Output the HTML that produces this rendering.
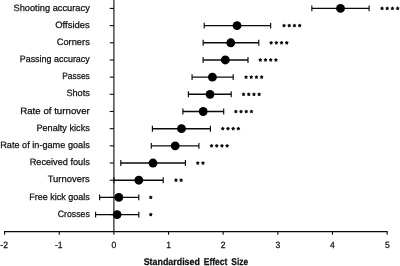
<!DOCTYPE html><html><head><meta charset="utf-8"><style>html,body{margin:0;padding:0;background:#fff;}svg{display:block;will-change:transform;}text{font-family:"Liberation Sans",sans-serif;fill:#111;stroke:#111;stroke-width:0.25px;text-rendering:geometricPrecision;}</style></head><body>
<svg width="400" height="266" viewBox="0 0 400 266">
<rect width="400" height="266" fill="#fff"/>
<g stroke="#0a0a0a" stroke-width="1.1" fill="none" stroke-linecap="butt">
<line x1="113.9" y1="0" x2="113.9" y2="231.65"/>
<line x1="4.050000000000009" y1="231.65" x2="387.7" y2="231.65"/>
<line x1="4.6000000000000085" y1="231.65" x2="4.6000000000000085" y2="234.75"/>
<line x1="59.25000000000001" y1="231.65" x2="59.25000000000001" y2="234.75"/>
<line x1="113.9" y1="231.65" x2="113.9" y2="234.75"/>
<line x1="168.55" y1="231.65" x2="168.55" y2="234.75"/>
<line x1="223.2" y1="231.65" x2="223.2" y2="234.75"/>
<line x1="277.85" y1="231.65" x2="277.85" y2="234.75"/>
<line x1="332.5" y1="231.65" x2="332.5" y2="234.75"/>
<line x1="387.15" y1="231.65" x2="387.15" y2="234.75"/>
<line x1="109.7" y1="8.42" x2="113.9" y2="8.42"/>
<line x1="109.7" y1="25.6" x2="113.9" y2="25.6"/>
<line x1="109.7" y1="42.78" x2="113.9" y2="42.78"/>
<line x1="109.7" y1="59.96" x2="113.9" y2="59.96"/>
<line x1="109.7" y1="77.14" x2="113.9" y2="77.14"/>
<line x1="109.7" y1="94.32000000000001" x2="113.9" y2="94.32000000000001"/>
<line x1="109.7" y1="111.5" x2="113.9" y2="111.5"/>
<line x1="109.7" y1="128.67999999999998" x2="113.9" y2="128.67999999999998"/>
<line x1="109.7" y1="145.85999999999999" x2="113.9" y2="145.85999999999999"/>
<line x1="109.7" y1="163.04" x2="113.9" y2="163.04"/>
<line x1="109.7" y1="180.22" x2="113.9" y2="180.22"/>
<line x1="109.7" y1="197.39999999999998" x2="113.9" y2="197.39999999999998"/>
<line x1="109.7" y1="214.57999999999998" x2="113.9" y2="214.57999999999998"/>
</g>
<text transform="translate(4.15,248.2) scale(0.94,1)" font-size="9.1" text-anchor="middle">-2</text>
<text transform="translate(58.80,248.2) scale(0.94,1)" font-size="9.1" text-anchor="middle">-1</text>
<text transform="translate(113.90,248.2) scale(0.94,1)" font-size="9.1" text-anchor="middle">0</text>
<text transform="translate(168.55,248.2) scale(0.94,1)" font-size="9.1" text-anchor="middle">1</text>
<text transform="translate(223.20,248.2) scale(0.94,1)" font-size="9.1" text-anchor="middle">2</text>
<text transform="translate(277.85,248.2) scale(0.94,1)" font-size="9.1" text-anchor="middle">3</text>
<text transform="translate(332.50,248.2) scale(0.94,1)" font-size="9.1" text-anchor="middle">4</text>
<text transform="translate(387.45,248.2) scale(0.94,1)" font-size="9.1" text-anchor="middle">5</text>
<text x="143.7" y="264.6" font-size="9.8" font-weight="bold" textLength="56.2" lengthAdjust="spacingAndGlyphs">Standardised</text>
<text x="203.7" y="264.6" font-size="9.8" font-weight="bold" textLength="23.8" lengthAdjust="spacingAndGlyphs">Effect</text>
<text x="231.3" y="264.6" font-size="9.8" font-weight="bold" textLength="16.8" lengthAdjust="spacingAndGlyphs">Size</text>
<text x="13.45" y="10.52" font-size="9.25" textLength="76.35" lengthAdjust="spacingAndGlyphs">Shooting accuracy</text>
<g stroke="#0a0a0a" stroke-width="1.15" fill="none"><line x1="311.85" y1="8.42" x2="369.1" y2="8.42" stroke-width="1.4"/><line x1="311.85" y1="5.47" x2="311.85" y2="11.37"/><line x1="369.1" y1="5.47" x2="369.1" y2="11.37"/></g>
<circle cx="340.5" cy="8.42" r="4.42" fill="#000"/>
<path d="M382.05 8.42L382.05 7.20M382.05 8.42L383.21 8.04M382.05 8.42L382.77 9.41M382.05 8.42L381.33 9.41M382.05 8.42L380.89 8.04M387.25 8.42L387.25 7.20M387.25 8.42L388.41 8.04M387.25 8.42L387.97 9.41M387.25 8.42L386.53 9.41M387.25 8.42L386.09 8.04M392.45 8.42L392.45 7.20M392.45 8.42L393.61 8.04M392.45 8.42L393.17 9.41M392.45 8.42L391.73 9.41M392.45 8.42L391.29 8.04M397.65 8.42L397.65 7.20M397.65 8.42L398.81 8.04M397.65 8.42L398.37 9.41M397.65 8.42L396.93 9.41M397.65 8.42L396.49 8.04" stroke="#0a0a0a" stroke-width="1.28" fill="none" stroke-linecap="round"/>
<text x="55.20" y="27.70" font-size="9.25" textLength="34.60" lengthAdjust="spacingAndGlyphs">Offsides</text>
<g stroke="#0a0a0a" stroke-width="1.15" fill="none"><line x1="204.2" y1="25.60" x2="270.65" y2="25.60" stroke-width="1.4"/><line x1="204.2" y1="22.65" x2="204.2" y2="28.55"/><line x1="270.65" y1="22.65" x2="270.65" y2="28.55"/></g>
<circle cx="237.05" cy="25.60" r="4.42" fill="#000"/>
<path d="M284.05 25.60L284.05 24.38M284.05 25.60L285.21 25.22M284.05 25.60L284.77 26.59M284.05 25.60L283.33 26.59M284.05 25.60L282.89 25.22M289.25 25.60L289.25 24.38M289.25 25.60L290.41 25.22M289.25 25.60L289.97 26.59M289.25 25.60L288.53 26.59M289.25 25.60L288.09 25.22M294.45 25.60L294.45 24.38M294.45 25.60L295.61 25.22M294.45 25.60L295.17 26.59M294.45 25.60L293.73 26.59M294.45 25.60L293.29 25.22M299.65 25.60L299.65 24.38M299.65 25.60L300.81 25.22M299.65 25.60L300.37 26.59M299.65 25.60L298.93 26.59M299.65 25.60L298.49 25.22" stroke="#0a0a0a" stroke-width="1.28" fill="none" stroke-linecap="round"/>
<text x="56.70" y="44.88" font-size="9.25" textLength="33.10" lengthAdjust="spacingAndGlyphs">Corners</text>
<g stroke="#0a0a0a" stroke-width="1.15" fill="none"><line x1="203.15" y1="42.78" x2="258.8" y2="42.78" stroke-width="1.4"/><line x1="203.15" y1="39.83" x2="203.15" y2="45.73"/><line x1="258.8" y1="39.83" x2="258.8" y2="45.73"/></g>
<circle cx="230.75" cy="42.78" r="4.42" fill="#000"/>
<path d="M271.15 42.78L271.15 41.56M271.15 42.78L272.31 42.40M271.15 42.78L271.87 43.77M271.15 42.78L270.43 43.77M271.15 42.78L269.99 42.40M276.35 42.78L276.35 41.56M276.35 42.78L277.51 42.40M276.35 42.78L277.07 43.77M276.35 42.78L275.63 43.77M276.35 42.78L275.19 42.40M281.55 42.78L281.55 41.56M281.55 42.78L282.71 42.40M281.55 42.78L282.27 43.77M281.55 42.78L280.83 43.77M281.55 42.78L280.39 42.40M286.75 42.78L286.75 41.56M286.75 42.78L287.91 42.40M286.75 42.78L287.47 43.77M286.75 42.78L286.03 43.77M286.75 42.78L285.59 42.40" stroke="#0a0a0a" stroke-width="1.28" fill="none" stroke-linecap="round"/>
<text x="19.70" y="62.06" font-size="9.25" textLength="70.10" lengthAdjust="spacingAndGlyphs">Passing accuracy</text>
<g stroke="#0a0a0a" stroke-width="1.15" fill="none"><line x1="203.1" y1="59.96" x2="248.0" y2="59.96" stroke-width="1.4"/><line x1="203.1" y1="57.01" x2="203.1" y2="62.91"/><line x1="248.0" y1="57.01" x2="248.0" y2="62.91"/></g>
<circle cx="225.3" cy="59.96" r="4.42" fill="#000"/>
<path d="M260.30 59.96L260.30 58.74M260.30 59.96L261.46 59.58M260.30 59.96L261.02 60.95M260.30 59.96L259.58 60.95M260.30 59.96L259.14 59.58M265.50 59.96L265.50 58.74M265.50 59.96L266.66 59.58M265.50 59.96L266.22 60.95M265.50 59.96L264.78 60.95M265.50 59.96L264.34 59.58M270.70 59.96L270.70 58.74M270.70 59.96L271.86 59.58M270.70 59.96L271.42 60.95M270.70 59.96L269.98 60.95M270.70 59.96L269.54 59.58M275.90 59.96L275.90 58.74M275.90 59.96L277.06 59.58M275.90 59.96L276.62 60.95M275.90 59.96L275.18 60.95M275.90 59.96L274.74 59.58" stroke="#0a0a0a" stroke-width="1.28" fill="none" stroke-linecap="round"/>
<text x="62.20" y="79.24" font-size="9.25" textLength="27.60" lengthAdjust="spacingAndGlyphs">Passes</text>
<g stroke="#0a0a0a" stroke-width="1.15" fill="none"><line x1="192.05" y1="77.14" x2="233.2" y2="77.14" stroke-width="1.4"/><line x1="192.05" y1="74.19" x2="192.05" y2="80.09"/><line x1="233.2" y1="74.19" x2="233.2" y2="80.09"/></g>
<circle cx="212.4" cy="77.14" r="4.42" fill="#000"/>
<path d="M246.05 77.14L246.05 75.92M246.05 77.14L247.21 76.76M246.05 77.14L246.77 78.13M246.05 77.14L245.33 78.13M246.05 77.14L244.89 76.76M251.25 77.14L251.25 75.92M251.25 77.14L252.41 76.76M251.25 77.14L251.97 78.13M251.25 77.14L250.53 78.13M251.25 77.14L250.09 76.76M256.45 77.14L256.45 75.92M256.45 77.14L257.61 76.76M256.45 77.14L257.17 78.13M256.45 77.14L255.73 78.13M256.45 77.14L255.29 76.76M261.65 77.14L261.65 75.92M261.65 77.14L262.81 76.76M261.65 77.14L262.37 78.13M261.65 77.14L260.93 78.13M261.65 77.14L260.49 76.76" stroke="#0a0a0a" stroke-width="1.28" fill="none" stroke-linecap="round"/>
<text x="66.45" y="96.42" font-size="9.25" textLength="23.35" lengthAdjust="spacingAndGlyphs">Shots</text>
<g stroke="#0a0a0a" stroke-width="1.15" fill="none"><line x1="188.4" y1="94.32" x2="231.2" y2="94.32" stroke-width="1.4"/><line x1="188.4" y1="91.37" x2="188.4" y2="97.27"/><line x1="231.2" y1="91.37" x2="231.2" y2="97.27"/></g>
<circle cx="210.0" cy="94.32" r="4.42" fill="#000"/>
<path d="M243.55 94.32L243.55 93.10M243.55 94.32L244.71 93.94M243.55 94.32L244.27 95.31M243.55 94.32L242.83 95.31M243.55 94.32L242.39 93.94M248.75 94.32L248.75 93.10M248.75 94.32L249.91 93.94M248.75 94.32L249.47 95.31M248.75 94.32L248.03 95.31M248.75 94.32L247.59 93.94M253.95 94.32L253.95 93.10M253.95 94.32L255.11 93.94M253.95 94.32L254.67 95.31M253.95 94.32L253.23 95.31M253.95 94.32L252.79 93.94M259.15 94.32L259.15 93.10M259.15 94.32L260.31 93.94M259.15 94.32L259.87 95.31M259.15 94.32L258.43 95.31M259.15 94.32L257.99 93.94" stroke="#0a0a0a" stroke-width="1.28" fill="none" stroke-linecap="round"/>
<text x="20.20" y="113.60" font-size="9.25" textLength="69.60" lengthAdjust="spacingAndGlyphs">Rate of turnover</text>
<g stroke="#0a0a0a" stroke-width="1.15" fill="none"><line x1="182.9" y1="111.50" x2="223.7" y2="111.50" stroke-width="1.4"/><line x1="182.9" y1="108.55" x2="182.9" y2="114.45"/><line x1="223.7" y1="108.55" x2="223.7" y2="114.45"/></g>
<circle cx="203.2" cy="111.50" r="4.42" fill="#000"/>
<path d="M235.85 111.50L235.85 110.28M235.85 111.50L237.01 111.12M235.85 111.50L236.57 112.49M235.85 111.50L235.13 112.49M235.85 111.50L234.69 111.12M241.05 111.50L241.05 110.28M241.05 111.50L242.21 111.12M241.05 111.50L241.77 112.49M241.05 111.50L240.33 112.49M241.05 111.50L239.89 111.12M246.25 111.50L246.25 110.28M246.25 111.50L247.41 111.12M246.25 111.50L246.97 112.49M246.25 111.50L245.53 112.49M246.25 111.50L245.09 111.12M251.45 111.50L251.45 110.28M251.45 111.50L252.61 111.12M251.45 111.50L252.17 112.49M251.45 111.50L250.73 112.49M251.45 111.50L250.29 111.12" stroke="#0a0a0a" stroke-width="1.28" fill="none" stroke-linecap="round"/>
<text x="36.45" y="130.78" font-size="9.25" textLength="53.35" lengthAdjust="spacingAndGlyphs">Penalty kicks</text>
<g stroke="#0a0a0a" stroke-width="1.15" fill="none"><line x1="152.4" y1="128.68" x2="210.4" y2="128.68" stroke-width="1.4"/><line x1="152.4" y1="125.73" x2="152.4" y2="131.63"/><line x1="210.4" y1="125.73" x2="210.4" y2="131.63"/></g>
<circle cx="181.5" cy="128.68" r="4.42" fill="#000"/>
<path d="M222.75 128.68L222.75 127.46M222.75 128.68L223.91 128.30M222.75 128.68L223.47 129.67M222.75 128.68L222.03 129.67M222.75 128.68L221.59 128.30M227.95 128.68L227.95 127.46M227.95 128.68L229.11 128.30M227.95 128.68L228.67 129.67M227.95 128.68L227.23 129.67M227.95 128.68L226.79 128.30M233.15 128.68L233.15 127.46M233.15 128.68L234.31 128.30M233.15 128.68L233.87 129.67M233.15 128.68L232.43 129.67M233.15 128.68L231.99 128.30M238.35 128.68L238.35 127.46M238.35 128.68L239.51 128.30M238.35 128.68L239.07 129.67M238.35 128.68L237.63 129.67M238.35 128.68L237.19 128.30" stroke="#0a0a0a" stroke-width="1.28" fill="none" stroke-linecap="round"/>
<text x="0.20" y="147.96" font-size="9.25" textLength="89.60" lengthAdjust="spacingAndGlyphs">Rate of in-game goals</text>
<g stroke="#0a0a0a" stroke-width="1.15" fill="none"><line x1="151.3" y1="145.86" x2="198.9" y2="145.86" stroke-width="1.4"/><line x1="151.3" y1="142.91" x2="151.3" y2="148.81"/><line x1="198.9" y1="142.91" x2="198.9" y2="148.81"/></g>
<circle cx="175.2" cy="145.86" r="4.42" fill="#000"/>
<path d="M211.55 145.86L211.55 144.64M211.55 145.86L212.71 145.48M211.55 145.86L212.27 146.85M211.55 145.86L210.83 146.85M211.55 145.86L210.39 145.48M216.75 145.86L216.75 144.64M216.75 145.86L217.91 145.48M216.75 145.86L217.47 146.85M216.75 145.86L216.03 146.85M216.75 145.86L215.59 145.48M221.95 145.86L221.95 144.64M221.95 145.86L223.11 145.48M221.95 145.86L222.67 146.85M221.95 145.86L221.23 146.85M221.95 145.86L220.79 145.48M227.15 145.86L227.15 144.64M227.15 145.86L228.31 145.48M227.15 145.86L227.87 146.85M227.15 145.86L226.43 146.85M227.15 145.86L225.99 145.48" stroke="#0a0a0a" stroke-width="1.28" fill="none" stroke-linecap="round"/>
<text x="29.70" y="165.14" font-size="9.25" textLength="60.10" lengthAdjust="spacingAndGlyphs">Received fouls</text>
<g stroke="#0a0a0a" stroke-width="1.15" fill="none"><line x1="120.8" y1="163.04" x2="185.4" y2="163.04" stroke-width="1.4"/><line x1="120.8" y1="160.09" x2="120.8" y2="165.99"/><line x1="185.4" y1="160.09" x2="185.4" y2="165.99"/></g>
<circle cx="153.0" cy="163.04" r="4.42" fill="#000"/>
<path d="M197.75 163.04L197.75 161.82M197.75 163.04L198.91 162.66M197.75 163.04L198.47 164.03M197.75 163.04L197.03 164.03M197.75 163.04L196.59 162.66M202.95 163.04L202.95 161.82M202.95 163.04L204.11 162.66M202.95 163.04L203.67 164.03M202.95 163.04L202.23 164.03M202.95 163.04L201.79 162.66" stroke="#0a0a0a" stroke-width="1.28" fill="none" stroke-linecap="round"/>
<text x="47.70" y="182.32" font-size="9.25" textLength="42.10" lengthAdjust="spacingAndGlyphs">Turnovers</text>
<g stroke="#0a0a0a" stroke-width="1.15" fill="none"><line x1="114.0" y1="180.22" x2="163.2" y2="180.22" stroke-width="1.4"/><line x1="114.0" y1="177.27" x2="114.0" y2="183.17"/><line x1="163.2" y1="177.27" x2="163.2" y2="183.17"/></g>
<circle cx="138.8" cy="180.22" r="4.42" fill="#000"/>
<path d="M175.95 180.22L175.95 179.00M175.95 180.22L177.11 179.84M175.95 180.22L176.67 181.21M175.95 180.22L175.23 181.21M175.95 180.22L174.79 179.84M181.15 180.22L181.15 179.00M181.15 180.22L182.31 179.84M181.15 180.22L181.87 181.21M181.15 180.22L180.43 181.21M181.15 180.22L179.99 179.84" stroke="#0a0a0a" stroke-width="1.28" fill="none" stroke-linecap="round"/>
<text x="29.20" y="199.50" font-size="9.25" textLength="60.60" lengthAdjust="spacingAndGlyphs">Free kick goals</text>
<g stroke="#0a0a0a" stroke-width="1.15" fill="none"><line x1="99.6" y1="197.40" x2="138.8" y2="197.40" stroke-width="1.4"/><line x1="99.6" y1="194.45" x2="99.6" y2="200.35"/><line x1="138.8" y1="194.45" x2="138.8" y2="200.35"/></g>
<circle cx="118.8" cy="197.40" r="4.42" fill="#000"/>
<path d="M150.75 197.40L150.75 196.18M150.75 197.40L151.91 197.02M150.75 197.40L151.47 198.39M150.75 197.40L150.03 198.39M150.75 197.40L149.59 197.02" stroke="#0a0a0a" stroke-width="1.28" fill="none" stroke-linecap="round"/>
<text x="57.70" y="216.68" font-size="9.25" textLength="32.10" lengthAdjust="spacingAndGlyphs">Crosses</text>
<g stroke="#0a0a0a" stroke-width="1.15" fill="none"><line x1="95.6" y1="214.58" x2="138.8" y2="214.58" stroke-width="1.4"/><line x1="95.6" y1="211.63" x2="95.6" y2="217.53"/><line x1="138.8" y1="211.63" x2="138.8" y2="217.53"/></g>
<circle cx="117.1" cy="214.58" r="4.42" fill="#000"/>
<path d="M150.75 214.58L150.75 213.36M150.75 214.58L151.91 214.20M150.75 214.58L151.47 215.57M150.75 214.58L150.03 215.57M150.75 214.58L149.59 214.20" stroke="#0a0a0a" stroke-width="1.28" fill="none" stroke-linecap="round"/>
</svg></body></html>
